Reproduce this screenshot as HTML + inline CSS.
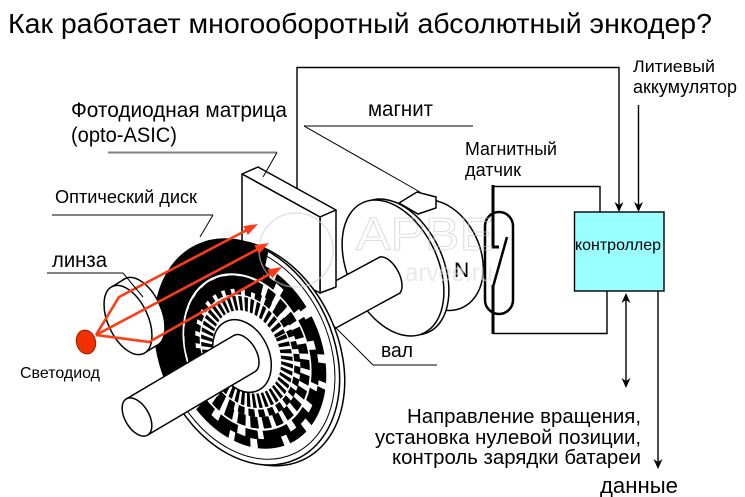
<!DOCTYPE html>
<html><head><meta charset="utf-8">
<style>
html,body{margin:0;padding:0;background:#fff;}
svg{display:block;}
text{font-family:"Liberation Sans","DejaVu Sans",sans-serif;}
</style></head><body>
<svg width="745" height="497" viewBox="0 0 745 497" xmlns="http://www.w3.org/2000/svg">
<rect width="745" height="497" fill="#fff"/>

<text x="8" y="33" font-size="28" textLength="704" lengthAdjust="spacingAndGlyphs">Как работает многооборотный абсолютный энкодер?</text>

<!-- wires -->
<g fill="none" stroke="#000" stroke-width="1.4">
<path d="M297,195 V67.5 H619 V205"/>
<path d="M638.5,105 V205"/>
<path d="M493,186.5 H600 V212"/>
<path d="M493,333.5 H607 V291"/>
<path d="M626,298 V383"/>
<path d="M658,291 V462"/>
</g>
<g fill="#000">
<polygon points="619,212 614.5,202 619,205 623.5,202"/>
<polygon points="638.5,212 634,202 638.5,205 643,202"/>
<polygon points="626,293 621.5,303 626,300 630.5,303"/>
<polygon points="626,388 621.5,378 626,381 630.5,378"/>
<polygon points="658,469 653.5,459 658,462 662.5,459"/>
</g>

<!-- controller -->
<rect x="574.5" y="212" width="89.5" height="79" fill="#99FFFF" stroke="#000" stroke-width="1.4"/>
<text x="575" y="250" font-size="16" textLength="86" lengthAdjust="spacingAndGlyphs">контроллер</text>

<!-- magnet -->
<g stroke="#000" stroke-width="1.5" fill="#fff">
<ellipse cx="438" cy="255" rx="42" ry="58" transform="rotate(-25 438 255)"/>
<polygon points="399,203 417,192 436,197 436,208 418,214"/>
<ellipse cx="398" cy="267" rx="45" ry="72" transform="rotate(-25 398 267)"/>
<ellipse cx="393" cy="268" rx="45" ry="72" transform="rotate(-25 393 268)"/>
</g>
<text x="454" y="277" font-size="21">N</text>

<!-- shaft right -->
<path d="M300,300 L380,257 A11,21 -28 0 1 400,293 L312,341 Z" fill="#fff" stroke="#000" stroke-width="1.5"/>

<!-- photodiode box -->
<g stroke="#000" stroke-width="1.5" fill="#fff" stroke-linejoin="round">
<polygon points="242,174 258,167 336,210 320,217"/>
<polygon points="320,217 336,210 336,287 320,293"/>
<polygon points="242,174 320,217 320,293 242,252"/>
</g>

<!-- disk -->
<g transform="translate(253,353) rotate(-25) scale(0.72,1)">
<circle r="118" fill="#fff" stroke="#000" stroke-width="1.5" vector-effect="non-scaling-stroke"/>
</g>
<g transform="translate(247,352) rotate(-25) scale(0.73,1)">
<circle r="118" fill="#fff" stroke="#000" stroke-width="1.5" vector-effect="non-scaling-stroke"/>
<circle r="112" fill="none" stroke="#000" stroke-width="1" vector-effect="non-scaling-stroke"/>
<!-- upper-left solid crescent -->
<circle r="92" fill="none" stroke="#000" stroke-width="52" stroke-dasharray="0 297 210 200"/>
<!-- outer track -->
<circle r="96" fill="none" stroke="#000" stroke-width="10" stroke-dasharray="34 9 20 7 44 10 26 8"/>
<circle r="86.5" fill="none" stroke="#000" stroke-width="10" stroke-dasharray="24 9 36 7 16 10" stroke-dashoffset="7"/>
<circle r="81" fill="none" stroke="#fff" stroke-width="2.5"/>
<!-- middle track -->
<circle r="74" fill="none" stroke="#000" stroke-width="12" stroke-dasharray="10 6"/>
<circle r="64" fill="none" stroke="#000" stroke-width="8" stroke-dasharray="8 5" stroke-dashoffset="3"/>
<circle r="59.5" fill="none" stroke="#fff" stroke-width="1.5"/>
<!-- inner spokes -->
<circle r="51" fill="none" stroke="#000" stroke-width="15" stroke-dasharray="4 3"/>
</g>
<ellipse cx="242" cy="356" rx="27" ry="38" transform="rotate(-25 242 356)" fill="#fff" stroke="#000" stroke-width="1.5"/>

<!-- shaft left -->
<path d="M126.3,398.9 L233.9,335.4 A12,21 -30.5 0 1 255.3,371.5 L147.7,435 Z" fill="#fff" stroke="#000" stroke-width="1.5"/>
<ellipse cx="137" cy="417" rx="12" ry="21" transform="rotate(-30.5 137 417)" fill="#fff" stroke="#000" stroke-width="1.5"/>

<!-- lens -->
<g fill="#fff" stroke="#000" stroke-width="1.5">
<ellipse cx="141" cy="312" rx="20" ry="37" transform="rotate(-25 141 312)"/>
<polygon points="112.4,286.5 125.4,278.5 156.6,345.5 143.6,353.5" stroke="none"/>
<line x1="112.4" y1="286.5" x2="125.4" y2="278.5"/>
<line x1="143.6" y1="353.5" x2="156.6" y2="345.5"/>
<ellipse cx="128" cy="320" rx="20" ry="37" transform="rotate(-25 128 320)"/>
</g>

<!-- sensor -->
<g stroke="#000" fill="none">
<rect x="485" y="212" width="28" height="102" rx="14" stroke-width="2.5"/>
<path d="M493,185 V247 H499" stroke-width="3"/>
<path d="M493,285 V334" stroke-width="3"/>
<path d="M507,237 L493,287" stroke-width="2.5"/>
</g>

<!-- watermark -->
<g opacity="0.6">
<circle cx="296" cy="250" r="37" fill="none" stroke="#cfcfcf" stroke-width="1.5"/>
<text x="356" y="250" font-size="46" textLength="138" lengthAdjust="spacingAndGlyphs" fill="none" stroke="#c8c8c8" stroke-width="1">APBE</text>
<text x="405" y="281" font-size="26" textLength="88" lengthAdjust="spacingAndGlyphs" fill="#dcdcdc">arvee.ru</text>
</g>

<!-- LED -->
<ellipse cx="86" cy="342" rx="9.5" ry="12" transform="rotate(-15 86 342)" fill="#F03000" stroke="#A01800" stroke-width="1"/>

<!-- rays -->
<g fill="none" stroke="#FF3A16" stroke-width="2.6" stroke-linejoin="round">
<polyline points="96,335 119,297 246,230.5"/>
<polyline points="96,335 257,249.6"/>
<polyline points="96,335 149,342 270,273.9"/>
</g>
<g fill="#FF3A16">
<polygon points="258,224 243.3,226.1 247.9,234.9"/>
<polygon points="269,243 254.3,245.2 259,254"/>
<polygon points="282,267 267.3,269.5 272.3,278.3"/>
</g>

<!-- leaders -->
<g stroke="#808080" stroke-width="2">
<line x1="108" y1="152.5" x2="277" y2="152.5"/>
<line x1="304" y1="126" x2="473" y2="126"/>
<line x1="52" y1="215" x2="213" y2="215"/>
<line x1="47" y1="273" x2="123" y2="273"/>
<line x1="373" y1="365" x2="437" y2="365"/>
</g>
<g stroke="#000" stroke-width="1">
<line x1="277" y1="152.5" x2="263" y2="177"/>
<line x1="304" y1="126" x2="420" y2="192"/>
<line x1="213" y1="215" x2="200" y2="237"/>
<line x1="123" y1="273" x2="143" y2="297"/>
<line x1="333" y1="325" x2="373" y2="365"/>
</g>

<!-- labels -->
<text x="633" y="72" font-size="17" textLength="82" lengthAdjust="spacingAndGlyphs">Литиевый</text>
<text x="633" y="93" font-size="18" textLength="104" lengthAdjust="spacingAndGlyphs">аккумулятор</text>
<text x="71" y="117" font-size="21" textLength="216" lengthAdjust="spacingAndGlyphs">Фотодиодная матрица</text>
<text x="71" y="142" font-size="21" textLength="106" lengthAdjust="spacingAndGlyphs">(opto-ASIC)</text>
<text x="368" y="116" font-size="21" textLength="65" lengthAdjust="spacingAndGlyphs">магнит</text>
<text x="465" y="155" font-size="18" textLength="92" lengthAdjust="spacingAndGlyphs">Магнитный</text>
<text x="465" y="176" font-size="18" textLength="56" lengthAdjust="spacingAndGlyphs">датчик</text>
<text x="55" y="203" font-size="18" textLength="142" lengthAdjust="spacingAndGlyphs">Оптический диск</text>
<text x="52" y="267" font-size="21" textLength="55" lengthAdjust="spacingAndGlyphs">линза</text>
<text x="20" y="378" font-size="16" textLength="80" lengthAdjust="spacingAndGlyphs">Светодиод</text>
<text x="381" y="357" font-size="20" textLength="32" lengthAdjust="spacingAndGlyphs">вал</text>
<text x="407" y="423" font-size="20" textLength="234" lengthAdjust="spacingAndGlyphs">Направление вращения,</text>
<text x="375" y="444" font-size="20" textLength="266" lengthAdjust="spacingAndGlyphs">установка нулевой позиции,</text>
<text x="392" y="464" font-size="20" textLength="249" lengthAdjust="spacingAndGlyphs">контроль зарядки батареи</text>
<text x="600" y="493" font-size="22" textLength="78" lengthAdjust="spacingAndGlyphs">данные</text>
</svg>
</body></html>
